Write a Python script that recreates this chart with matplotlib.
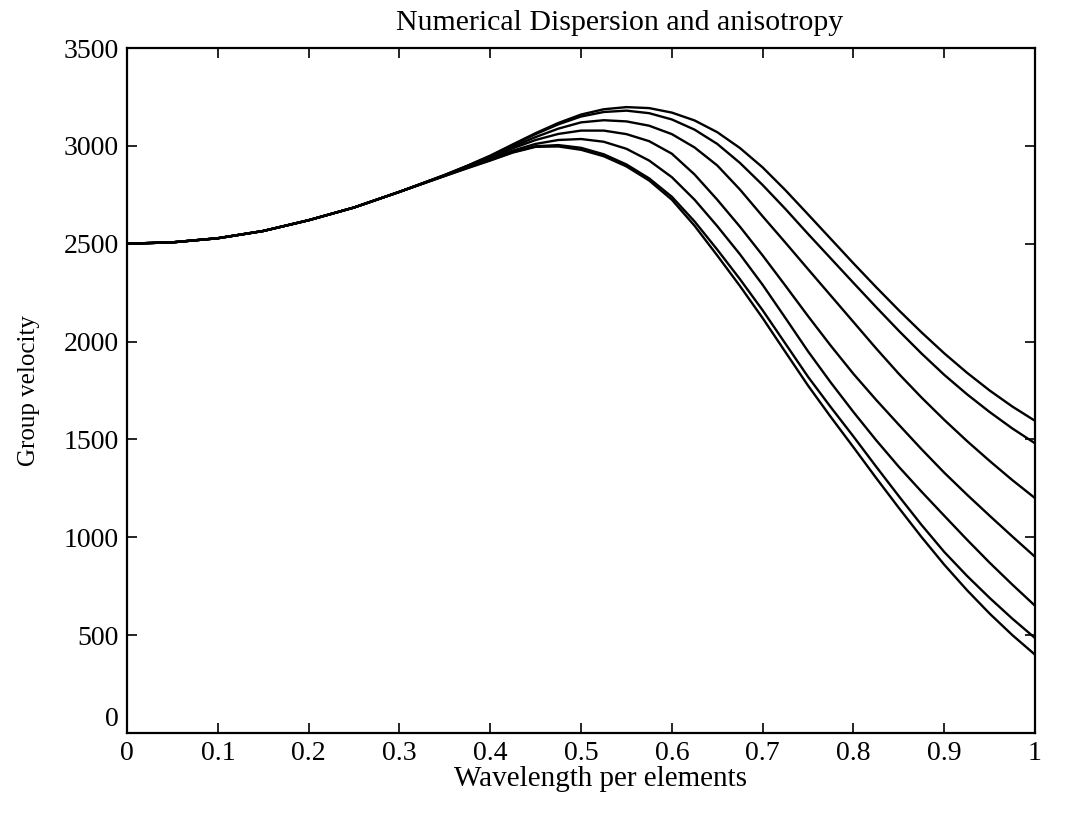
import numpy as np
import matplotlib
matplotlib.use("Agg")
import matplotlib.pyplot as plt
from matplotlib.transforms import ScaledTranslation

plt.rcParams['font.family'] = ['Liberation Serif', 'DejaVu Serif']

# wavelength per element (x) and group velocity for each direction
wavelength = [0.0, 0.05, 0.1, 0.15, 0.2, 0.25, 0.3,
              0.35, 0.375, 0.4, 0.425, 0.45, 0.475, 0.5, 0.525, 0.55, 0.575,
              0.6, 0.625, 0.65, 0.675, 0.7, 0.725, 0.75, 0.775, 0.8, 0.825,
              0.85, 0.875, 0.9, 0.925, 0.95, 0.975, 1.0]

# shared part of every curve (x = 0 .. 0.3)
vel_start = [2500, 2507, 2528, 2565, 2620, 2685, 2765]

vel_1 = vel_start + [2852, 2899, 2950, 3008, 3065, 3117, 3160, 3187, 3198, 3193,
                     3170, 3130, 3070, 2989, 2890, 2774, 2650, 2525, 2400, 2278,
                     2160, 2047, 1940, 1841, 1750, 1668, 1595]
vel_2 = vel_start + [2851, 2898, 2948, 3004, 3060, 3110, 3150, 3173, 3180, 3167,
                     3135, 3083, 3010, 2913, 2800, 2678, 2550, 2425, 2300, 2176,
                     2055, 1939, 1830, 1731, 1640, 1556, 1480]
vel_3 = vel_start + [2850, 2897, 2945, 2996, 3045, 3088, 3120, 3131, 3125, 3103,
                     3060, 2992, 2900, 2777, 2640, 2506, 2370, 2235, 2100, 1965,
                     1835, 1714, 1600, 1492, 1390, 1292, 1200]
vel_4 = vel_start + [2849, 2894, 2940, 2988, 3030, 3061, 3078, 3078, 3060, 3024,
                     2960, 2854, 2725, 2587, 2440, 2286, 2130, 1979, 1835, 1702,
                     1575, 1450, 1330, 1218, 1110, 1004, 900]
vel_5 = vel_start + [2848, 2892, 2935, 2976, 3010, 3030, 3035, 3021, 2985, 2925,
                     2840, 2725, 2590, 2446, 2290, 2121, 1950, 1791, 1640, 1496,
                     1360, 1233, 1110, 988, 870, 758, 650]
vel_6 = vel_start + [2847, 2888, 2927, 2968, 2998, 3004, 2990, 2957, 2905, 2834,
                     2740, 2614, 2470, 2319, 2160, 1990, 1820, 1665, 1515, 1361,
                     1210, 1063, 925, 803, 690, 584, 485]
vel_7 = vel_start + [2846, 2886, 2925, 2966, 2995, 2997, 2980, 2947, 2895, 2823,
                     2725, 2592, 2440, 2284, 2120, 1947, 1775, 1615, 1460, 1303,
                     1150, 1001, 860, 730, 610, 500, 400]

curves = [vel_1, vel_2, vel_3, vel_4, vel_5, vel_6, vel_7]

fig = plt.figure(figsize=(10.73, 8.18), dpi=100)
ax = fig.add_axes([0.1184, 0.104, 0.8462, 0.8373])

for v in curves:
    ax.plot(wavelength, v, color='black', lw=1.7)

ax.set_xlim(0, 1)
ax.set_ylim(0, 3500)
ax.set_xticks(np.arange(0, 1.01, 0.1))
ax.set_xticklabels(['0', '0.1', '0.2', '0.3', '0.4', '0.5', '0.6', '0.7', '0.8', '0.9', '1'])
ax.set_yticks(np.arange(0, 3501, 500))
ax.tick_params(direction='in', top=True, right=True, length=7, width=1.2,
               labelsize=20, pad=6)
for s in ax.spines.values():
    s.set_linewidth(1.6)

ax.set_title("Numerical Dispersion and anisotropy", fontsize=21.5, pad=13, x=0.543)
ax.set_xlabel("Wavelength per elements", fontsize=21, labelpad=0)
ax.xaxis.label.set_x(0.521)
ax.set_ylabel("Group velocity", fontsize=18)
ax.yaxis.set_label_coords(-0.096, 0.5)

# matlab-style: the y "0" sits a little above the axis corner
zero_lab = ax.get_yticklabels()[0]
zero_lab.set_transform(zero_lab.get_transform() + ScaledTranslation(0, 0.16, fig.dpi_scale_trans))

fig.savefig("out.png", dpi=100)
